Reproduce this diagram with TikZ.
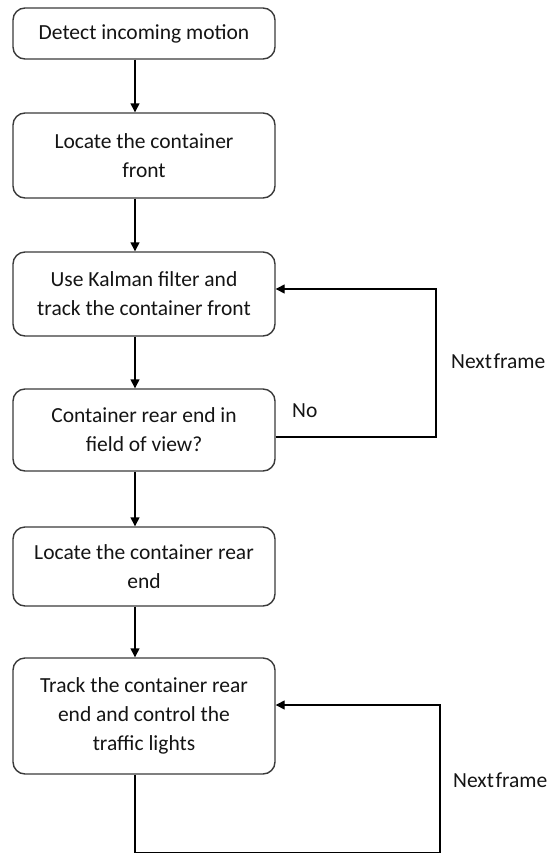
\documentclass[tikz,border=0pt]{standalone}
\usepackage{fontspec}
\setmainfont{Carlito}
\usetikzlibrary{arrows.meta,calc}
\definecolor{boxline}{HTML}{3A3A3A}
\definecolor{txt}{HTML}{141414}
\tikzset{
  stepbox/.style={draw=boxline, line width=1.4pt, rounded corners=12pt,
    minimum width=262pt, inner sep=0pt, align=center, text=txt,
    font=\fontsize{21.5}{29}\selectfont},
  arr/.style={line width=1.4pt, -{Triangle[length=9pt,width=9pt]}},
  lbl/.style={font=\fontsize{21.5}{29}\selectfont, text=txt, inner sep=0pt}
}
\begin{document}
\begin{tikzpicture}[x=1pt,y=-1pt]
  \useasboundingbox (0,0) rectangle (550,855);
  % process steps
  \node[stepbox, minimum height=51pt] (b1) at (144,33.5) {Detect incoming motion};
  \node[stepbox, minimum height=85pt] (b2) at (144,155.5) {Locate the container\\front};
  \node[stepbox, minimum height=84pt] (b3) at (144,294) {Use Kalman filter and\\track the container front};
  \node[stepbox, minimum height=82pt] (b4) at (144,430) {Container rear end in\\field of view?};
  \node[stepbox, minimum height=79pt] (b5) at (144,566.5) {Locate the container rear\\end};
  \node[stepbox, minimum height=116pt] (b6) at (144,716) {Track the container rear\\end and control the\\traffic lights};
  % main flow runs slightly left of the box centres
  \coordinate (ax) at (135,0);
  \draw[arr] (b1.south -| ax) -- (b2.north -| ax);
  \draw[arr] (b2.south -| ax) -- (b3.north -| ax);
  \draw[arr] (b3.south -| ax) -- (b4.north -| ax);
  \draw[arr] (b4.south -| ax) -- (b5.north -| ax);
  \draw[arr] (b5.south -| ax) -- (b6.north -| ax);
  % loop back while the rear end is not yet visible
  \coordinate (l1out) at (b4.east |- 0,437);
  \coordinate (l1in) at (b3.east |- 0,289);
  \coordinate (l1a) at (436,437);
  \coordinate (l1b) at (436,289);
  \draw[arr] (l1out) -- (l1a) -- (l1b) -- (l1in);
  \node[lbl, anchor=west] (no) at (292,411) {No};
  \node[lbl, anchor=west] (nf1) at (451,361) {Next\kern1.5pt frame};
  % tracking loop for the rear end
  \coordinate (l2a) at (135,852.5);
  \coordinate (l2b) at (440,852.5);
  \coordinate (l2c) at (440,705);
  \coordinate (l2in) at (b6.east |- 0,705);
  \draw[arr] (b6.south -| ax) -- (l2a) -- (l2b) -- (l2c) -- (l2in);
  \node[lbl, anchor=west] (nf2) at (453,780) {Next\kern1.5pt frame};
\end{tikzpicture}
\end{document}
